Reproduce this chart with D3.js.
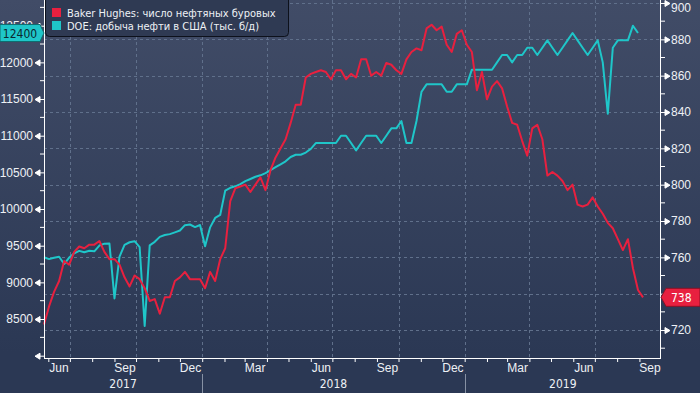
<!DOCTYPE html>
<html>
<head>
<meta charset="utf-8">
<script src="https://cdn.jsdelivr.net/npm/d3@7"></script>
<style>
  body { margin: 0; background: #2b3854; }
  svg { display: block; font-family: "DejaVu Sans Condensed", "DejaVu Sans", sans-serif; }
</style>
</head>
<body>
<svg id="chart"></svg>
<script>
// weekly data, first week = Fri 26 May 2017
var firstWeek = new Date(2017, 4, 26);

// Baker Hughes oil rigs (right axis)
var rigs2017 = [723, 733, 741, 747, 758, 756, 763, 766, 765, 767, 767, 769, 763, 759, 759, 756,
                749, 744, 750, 748, 743, 736, 737, 729, 738, 738, 747, 749, 752, 748, 748, 748];
var rigs2018 = [743, 752, 747, 759, 765, 791, 798, 799, 800, 796, 800, 804, 797, 808, 815, 820,
                825, 834, 844, 844, 859, 861, 862, 863, 862, 858, 863, 863, 858, 861, 859, 869,
                869, 860, 862, 860, 867, 866, 863, 861, 869, 873, 875, 874, 886, 888, 885, 887,
                877, 873, 883, 885];
var rigs2019 = [877, 873, 852, 862, 847, 854, 857, 853, 843, 834, 833, 824, 816, 831, 833, 825,
                805, 807, 805, 802, 797, 800, 789, 788, 789, 793, 788, 784, 779, 776, 770, 764,
                770, 754, 742, 738];

// DOE US crude output, thousand b/d (left axis)
var prod2017 = [9342, 9317, 9335, 9350, 9250, 9338, 9397, 9429, 9410, 9431, 9423, 9502, 9528, 9530, 8781, 9350,
                9510, 9547, 9561, 9480, 8406, 9505, 9553, 9620, 9645, 9658, 9682, 9707, 9780, 9789, 9754, 9782];
var prod2018 = [9492, 9750, 9878, 9919, 10251, 10290, 10310, 10340, 10380, 10410, 10440, 10460, 10490, 10530, 10570, 10610,
                10650, 10710, 10740, 10740, 10770, 10820, 10900, 10900, 10900, 10900, 10900, 11000, 11000, 10900, 10800, 10900,
                11000, 11000, 11000, 10900, 11000, 11100, 11100, 11200, 10900, 10900, 11200, 11600, 11700, 11700, 11700, 11700,
                11600, 11600, 11700, 11700];
var prod2019 = [11700, 11900, 11900, 11900, 11900, 11900, 12000, 12100, 12100, 12000, 12100, 12100, 12200, 12200, 12100, 12200,
                12300, 12200, 12100, 12200, 12300, 12400, 12300, 12200, 12100, 12200, 12300, 12000, 11300, 12200, 12300, 12300,
                12300, 12500, 12400];

var leftTicks = [8000, 8500, 9000, 9500, 10000, 10500, 11000, 11500, 12000, 12500];
var rightTicks = [720, 740, 760, 780, 800, 820, 840, 860, 880, 900];
var monthLabels = [new Date(2017, 5, 15), new Date(2017, 8, 15), new Date(2017, 11, 15), new Date(2018, 2, 15),
                   new Date(2018, 5, 15), new Date(2018, 8, 15), new Date(2018, 11, 15), new Date(2019, 2, 15),
                   new Date(2019, 5, 15), new Date(2019, 8, 15)];
var years = [2017, 2018, 2019];
var legendLabels = ["Baker Hughes: число нефтяных буровых", "DOE: добыча нефти в США (тыс. б/д)"];
var colors = ["#e8203f", "#1fc6c9"];

var rigs = rigs2017.concat(rigs2018, rigs2019);
var prod = prod2017.concat(prod2018, prod2019);
function weekDate(i) { return d3.timeDay.offset(firstWeek, 7 * i); }

var W = 700, H = 393;
var plotL = 44, plotR = 661, plotT = 0, plotB = 358;

var svg = d3.select("#chart").attr("width", W).attr("height", H);

// background
var grad = svg.append("defs").append("linearGradient")
    .attr("id", "bg").attr("x1", 0).attr("y1", 0).attr("x2", 0).attr("y2", 1);
grad.append("stop").attr("offset", 0).attr("stop-color", "#414c67");
grad.append("stop").attr("offset", 0.9).attr("stop-color", "#2b3854");
svg.append("rect").attr("width", W).attr("height", H).attr("fill", "url(#bg)");

var x = d3.scaleTime()
    .domain([new Date(2017, 4, 26), new Date(2019, 9, 1)])
    .range([plotL, plotR]);
var yL = d3.scaleLinear().domain([7968.6, 12850.4]).range([plotB, plotT]);
var yR = d3.scaleLinear().domain([704.6, 901.65]).range([plotB, plotT]);

// grid
var grid = svg.append("g").attr("stroke", "#60708b").attr("stroke-dasharray", "3,3").attr("stroke-width", 1);
grid.selectAll(".h").data(rightTicks.slice(0, -1)).enter().append("line")
    .attr("x1", plotL).attr("x2", plotR)
    .attr("y1", function(d) { return Math.round(yR(d)) + 0.5; })
    .attr("y2", function(d) { return Math.round(yR(d)) + 0.5; });
grid.append("line").attr("x1", plotL).attr("x2", plotR).attr("y1", 3.5).attr("y2", 3.5);
var quarters = d3.timeMonth.every(3).range(new Date(2017, 6, 1), new Date(2019, 8, 1));
grid.selectAll(".v").data(quarters).enter().append("line")
    .attr("y1", plotT).attr("y2", plotB)
    .attr("x1", function(d) { return Math.round(x(d)) + 0.5; })
    .attr("x2", function(d) { return Math.round(x(d)) + 0.5; });

// lines
var lineR = d3.line().x(function(d, i) { return x(weekDate(i)); }).y(function(d) { return yR(d); });
var lineL = d3.line().x(function(d, i) { return x(weekDate(i)); }).y(function(d) { return yL(d); });
svg.append("path").datum(prod).attr("d", lineL)
    .attr("fill", "none").attr("stroke", colors[1]).attr("stroke-width", 2).attr("stroke-linejoin", "round");
svg.append("path").datum(rigs).attr("d", lineR)
    .attr("fill", "none").attr("stroke", colors[0]).attr("stroke-width", 2).attr("stroke-linejoin", "round");

// left axis
var axL = svg.append("g").attr("transform", "translate(" + plotL + ",0)")
    .call(d3.axisLeft(yL).tickValues(leftTicks).tickSize(0).tickPadding(11)
        .tickFormat(function(d) { return d === 8000 ? "" : d; }));
axL.select(".domain").remove();
axL.selectAll(".tick").append("path").attr("d", "M-9,0L-4,-3L-4,3Z M-4,0H0").attr("fill", "#fff").attr("stroke", "#fff");
axL.selectAll(".minor").data(leftTicks).enter().append("line")
    .attr("x1", -4).attr("x2", 0)
    .attr("y1", function(d) { return yL(d + 250); }).attr("y2", function(d) { return yL(d + 250); })
    .attr("stroke", "#fff");
axL.append("line").attr("x1", 0.5).attr("x2", 0.5).attr("y1", plotT).attr("y2", plotB).attr("stroke", "#fff");

// right axis
var axR = svg.append("g").attr("transform", "translate(" + plotR + ",0)")
    .call(d3.axisRight(yR).tickValues(rightTicks).tickSize(0).tickPadding(10));
axR.select(".domain").remove();
axR.selectAll(".tick").filter(function(d) { return d === 900; })
    .select("text").attr("dy", "0.7em");
axR.selectAll(".tick").append("path").attr("d", "M0,0H4 M4,-3L9,0L4,3Z").attr("fill", "#fff").attr("stroke", "#fff");
axR.selectAll(".minor").data([710].concat(rightTicks.slice(0, -1).map(function(d) { return d + 10; }))).enter().append("line")
    .attr("x1", 0).attr("x2", 4)
    .attr("y1", function(d) { return yR(d); }).attr("y2", function(d) { return yR(d); })
    .attr("stroke", "#fff");
axR.append("line").attr("x1", -0.5).attr("x2", -0.5).attr("y1", plotT).attr("y2", plotB).attr("stroke", "#fff");

[axL, axR].forEach(function(a) {
  a.selectAll("text").attr("fill", "#eef1f5").attr("font-size", 12);
});

// bottom axis
var axB = svg.append("g").attr("transform", "translate(0," + plotB + ")");
axB.call(d3.axisBottom(x).tickValues(d3.timeMonth.range(new Date(2017, 5, 1), new Date(2019, 9, 1)))
    .tickSize(4).tickFormat(""));
axB.select(".domain").remove();
axB.selectAll("line").attr("stroke", "#fff");
axB.append("line").attr("x1", plotL).attr("x2", plotR).attr("y1", 0.5).attr("y2", 0.5).attr("stroke", "#fff");
var axM = svg.append("g").attr("transform", "translate(0," + plotB + ")")
    .call(d3.axisBottom(x).tickValues(monthLabels).tickSize(0).tickPadding(5).tickFormat(d3.timeFormat("%b")));
axM.select(".domain").remove();
axM.selectAll("text").attr("fill", "#eef1f5").attr("font-size", 12);

// year labels and separators
var yearSpans = years.map(function(yr) {
  var a = Math.max(x.range()[0], x(new Date(yr, 0, 1)));
  var b = Math.min(x.range()[1], x(new Date(yr + 1, 0, 1)));
  return {year: yr, a: a, b: b};
});
svg.selectAll(".yr").data(yearSpans).enter().append("text")
    .attr("x", function(d) { return (d.a + d.b) / 2; }).attr("y", 388)
    .attr("text-anchor", "middle").attr("fill", "#eef1f5").attr("font-size", 12)
    .text(function(d) { return d.year; });
svg.selectAll(".ysep").data(years.slice(1)).enter().append("line")
    .attr("x1", function(d) { return Math.round(x(new Date(d, 0, 1))) + 0.5; })
    .attr("x2", function(d) { return Math.round(x(new Date(d, 0, 1))) + 0.5; })
    .attr("y1", 374).attr("y2", H).attr("stroke", "#8791a4");

// legend
var lg = svg.append("g");
lg.append("rect").attr("x", 45.5).attr("y", -4.5).attr("width", 243).attr("height", 41).attr("rx", 4)
    .attr("fill", "#2f3a53").attr("stroke", "#0d111b");
legendLabels.forEach(function(t, i) {
  lg.append("rect").attr("x", 52).attr("y", 8 + i * 13).attr("width", 9).attr("height", 9).attr("fill", colors[i]);
  lg.append("text").attr("x", 67).attr("y", 16.5 + i * 13).attr("fill", "#eef1f5").attr("font-size", 11).text(t);
});

// last value tags
var lastProd = prod[prod.length - 1], lastRig = rigs[rigs.length - 1];
var ty = yL(lastProd);
svg.append("path")
    .attr("d", "M0," + (ty - 8.5) + "H40L44," + ty + "L40," + (ty + 8.5) + "H0Z")
    .attr("fill", colors[1]).attr("stroke", "#0f6d70");
svg.append("text").attr("x", 20).attr("y", ty + 4.5).attr("text-anchor", "middle")
    .attr("fill", "#0c2630").attr("font-size", 12).text(lastProd);
var ry = yR(lastRig);
svg.append("path")
    .attr("d", "M661," + ry + "L666," + (ry - 9) + "H700V" + (ry + 9) + "H666Z")
    .attr("fill", colors[0]).attr("stroke", "#8a1226");
svg.append("text").attr("x", 671).attr("y", ry + 4.5)
    .attr("fill", "#fff").attr("font-size", 12).text(lastRig);
</script>
</body>
</html>
